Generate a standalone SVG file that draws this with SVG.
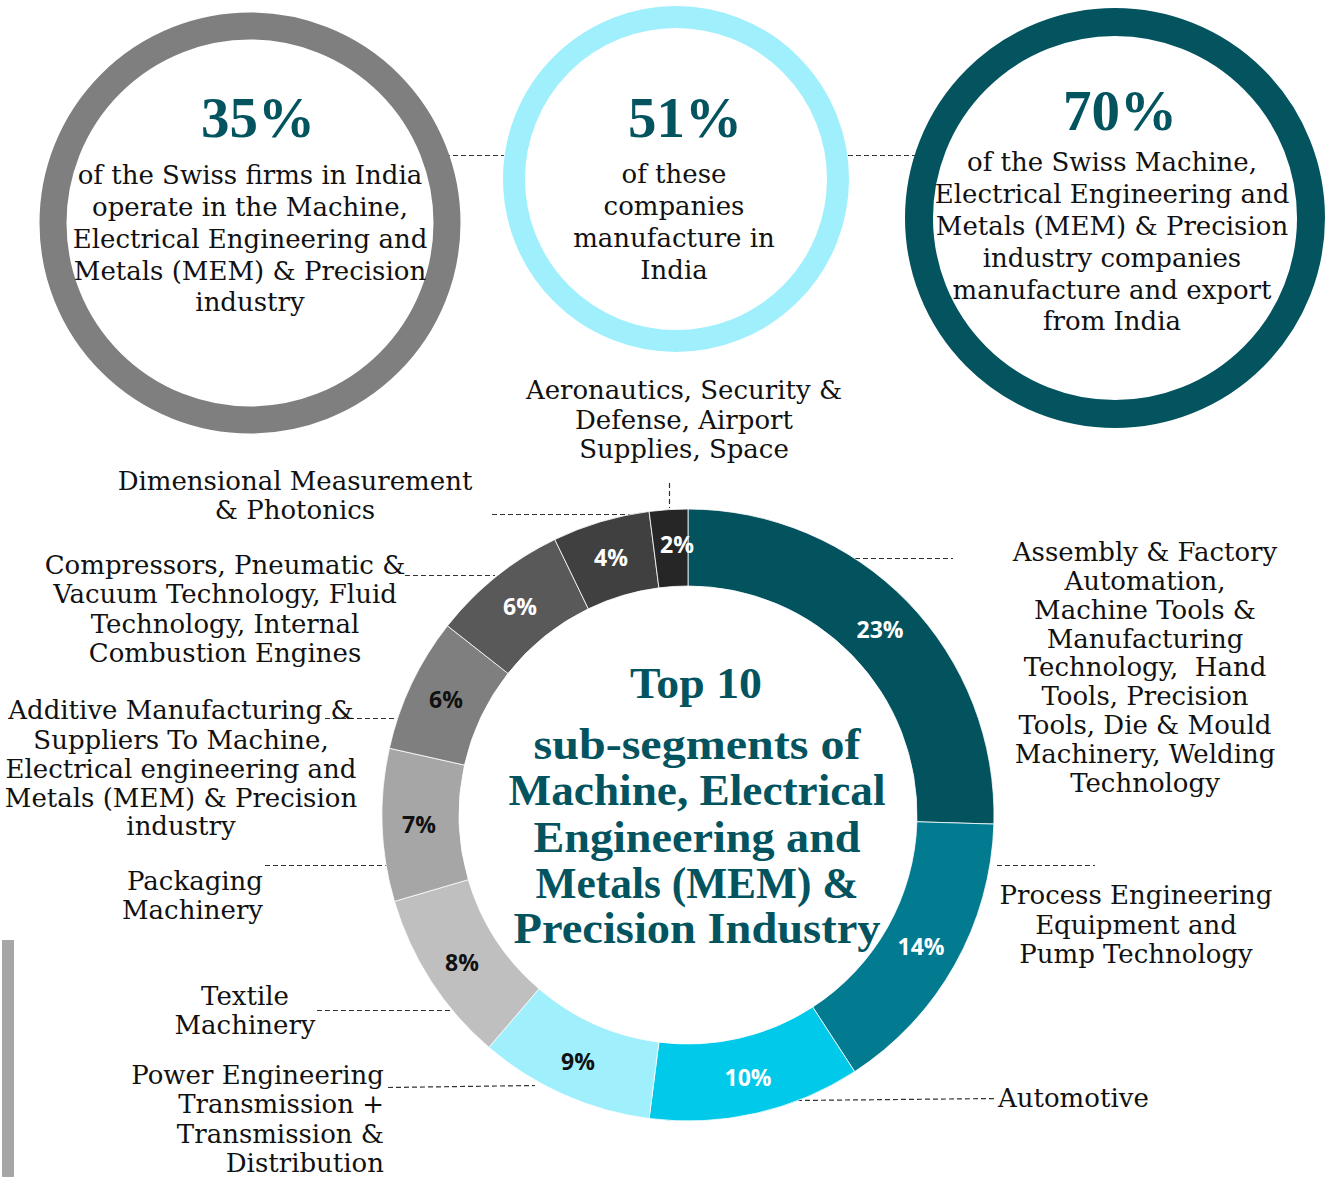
<svg xmlns="http://www.w3.org/2000/svg" width="1334" height="1177" viewBox="0 0 1334 1177">
<style>
.body{font-family:"DejaVu Serif","Liberation Serif",serif;font-size:26px;fill:#111;text-anchor:middle}
.lbl{font-family:"DejaVu Serif","Liberation Serif",serif;font-size:26px;fill:#111;text-anchor:middle}
.big{font-family:"Liberation Serif",serif;font-weight:700;font-size:57px;fill:#03545F;text-anchor:middle}
.title{font-family:"Liberation Serif",serif;font-weight:700;font-size:45px;fill:#03545F;text-anchor:middle}
.pct{font-family:"Open Sans","Liberation Sans",sans-serif;font-weight:700;font-size:23px;text-anchor:middle}
.w{fill:#fff}.k{fill:#111}
.seg{stroke:#fff;stroke-width:0.8}
.lead{stroke:#333;stroke-width:1.2;stroke-dasharray:5 3;fill:none}
</style>
<rect width="1334" height="1177" fill="#fff"/>
<rect x="2" y="940" width="12" height="237" fill="#A6A6A6"/>

<g id="connectors">
<line class="lead" x1="445" y1="155.5" x2="504" y2="155.5"/>
<line class="lead" x1="848" y1="155.5" x2="915" y2="155.5"/>
<line class="lead" x1="669.5" y1="483" x2="669.5" y2="508"/>
<line class="lead" x1="492" y1="514.5" x2="648" y2="514.5"/>
<line class="lead" x1="405" y1="575.5" x2="495" y2="575.5"/>
<line class="lead" x1="325" y1="718.5" x2="403" y2="718.5"/>
<line class="lead" x1="265" y1="865.5" x2="388" y2="865.5"/>
<line class="lead" x1="317" y1="1010.5" x2="452" y2="1010.5"/>
<line class="lead" x1="388" y1="1087.5" x2="535" y2="1085.5"/>
<line class="lead" x1="797" y1="1100.5" x2="997" y2="1098.5"/>
<line class="lead" x1="997" y1="865.5" x2="1095" y2="865.5"/>
<line class="lead" x1="855" y1="558.5" x2="953" y2="558.5"/>
</g>

<g id="node-35">
<circle cx="250" cy="223" r="197" fill="none" stroke="#7F7F7F" stroke-width="27"/>
<text class="big" x="258" y="137">35%</text>
<text class="body"><tspan x="250" y="184">of the Swiss firms in India</tspan><tspan x="250" y="216">operate in the Machine,</tspan><tspan x="250" y="248">Electrical Engineering and</tspan><tspan x="250" y="280">Metals (MEM) &amp; Precision</tspan><tspan x="250" y="311">industry</tspan></text>
</g>

<g id="node-51">
<circle cx="676" cy="179" r="162" fill="none" stroke="#A0EFFC" stroke-width="22"/>
<text class="big" x="685" y="137">51%</text>
<text class="body"><tspan x="674" y="183">of these</tspan><tspan x="674" y="215">companies</tspan><tspan x="674" y="247">manufacture in</tspan><tspan x="674" y="279">India</tspan></text>
</g>

<g id="node-70">
<circle cx="1115" cy="218" r="196" fill="none" stroke="#03545F" stroke-width="28"/>
<text class="big" x="1120" y="130">70%</text>
<text class="body"><tspan x="1112" y="171">of the Swiss Machine,</tspan><tspan x="1112" y="203">Electrical Engineering and</tspan><tspan x="1112" y="235">Metals (MEM) &amp; Precision</tspan><tspan x="1112" y="267">industry companies</tspan><tspan x="1112" y="299">manufacture and export</tspan><tspan x="1112" y="330">from India</tspan></text>
</g>

<g id="donut">
<g id="seg-23"><path class="seg" fill="#03535F" d="M688,509 A306,306 0 0 1 993.87,824.08 L916.90,821.79 A229,229 0 0 0 688,586 Z"/><text class="pct w" x="880" y="638">23%</text></g>
<g id="seg-14"><path class="seg" fill="#027A8F" d="M993.87,824.08 A306,306 0 0 1 854.66,1071.63 L812.72,1007.06 A229,229 0 0 0 916.90,821.79 Z"/><text class="pct w" x="921" y="955">14%</text></g>
<g id="seg-10"><path class="seg" fill="#00C9E9" d="M854.66,1071.63 A306,306 0 0 1 649.12,1118.52 L658.90,1042.14 A229,229 0 0 0 812.72,1007.06 Z"/><text class="pct w" x="748" y="1086">10%</text></g>
<g id="seg-9"><path class="seg" fill="#A0EFFC" d="M649.12,1118.52 A306,306 0 0 1 488.87,1047.34 L538.98,988.87 A229,229 0 0 0 658.90,1042.14 Z"/><text class="pct k" x="578" y="1070">9%</text></g>
<g id="seg-8"><path class="seg" fill="#BFBFBF" d="M488.87,1047.34 A306,306 0 0 1 394.45,901.40 L468.32,879.66 A229,229 0 0 0 538.98,988.87 Z"/><text class="pct k" x="462" y="971">8%</text></g>
<g id="seg-7"><path class="seg" fill="#A6A6A6" d="M394.45,901.40 A306,306 0 0 1 389.37,748.25 L464.51,765.05 A229,229 0 0 0 468.32,879.66 Z"/><text class="pct k" x="419" y="833">7%</text></g>
<g id="seg-6a"><path class="seg" fill="#7F7F7F" d="M389.37,748.25 A306,306 0 0 1 447.47,625.84 L508.00,673.44 A229,229 0 0 0 464.51,765.05 Z"/><text class="pct k" x="446" y="708">6%</text></g>
<g id="seg-6b"><path class="seg" fill="#595959" d="M447.47,625.84 A306,306 0 0 1 554.82,539.50 L588.33,608.83 A229,229 0 0 0 508.00,673.44 Z"/><text class="pct w" x="520" y="615">6%</text></g>
<g id="seg-4"><path class="seg" fill="#404040" d="M554.82,539.50 A306,306 0 0 1 649.12,511.48 L658.90,587.86 A229,229 0 0 0 588.33,608.83 Z"/><text class="pct w" x="611" y="566">4%</text></g>
<g id="seg-2"><path class="seg" fill="#262626" d="M649.12,511.48 A306,306 0 0 1 688,509 L688,586 A229,229 0 0 0 658.90,587.86 Z"/><text class="pct w" x="677" y="553">2%</text></g>
</g>

<g id="center-title">
<text class="title" x="696" y="698" textLength="132" lengthAdjust="spacingAndGlyphs">Top 10</text>
<text class="title" x="697" y="759" textLength="327" lengthAdjust="spacingAndGlyphs">sub-segments of</text>
<text class="title" x="697" y="805" textLength="377" lengthAdjust="spacingAndGlyphs">Machine, Electrical</text>
<text class="title" x="697" y="852" textLength="327" lengthAdjust="spacingAndGlyphs">Engineering and</text>
<text class="title" x="697" y="898" textLength="323" lengthAdjust="spacingAndGlyphs">Metals (MEM) &amp;</text>
<text class="title" x="697" y="943" textLength="367" lengthAdjust="spacingAndGlyphs">Precision Industry</text>
</g>

<g id="label-aero"><text class="lbl"><tspan x="684" y="399">Aeronautics, Security &amp;</tspan><tspan x="684" y="429">Defense, Airport</tspan><tspan x="684" y="458">Supplies, Space</tspan></text></g>
<g id="label-dim"><text class="lbl"><tspan x="295" y="490">Dimensional Measurement</tspan><tspan x="295" y="519">&amp; Photonics</tspan></text></g>
<g id="label-comp"><text class="lbl"><tspan x="225" y="574">Compressors, Pneumatic &amp;</tspan><tspan x="225" y="603">Vacuum Technology, Fluid</tspan><tspan x="225" y="633">Technology, Internal</tspan><tspan x="225" y="662">Combustion Engines</tspan></text></g>
<g id="label-add"><text class="lbl"><tspan x="181" y="719">Additive Manufacturing &amp;</tspan><tspan x="181" y="749">Suppliers To Machine,</tspan><tspan x="181" y="778">Electrical engineering and</tspan><tspan x="181" y="807">Metals (MEM) &amp; Precision</tspan><tspan x="181" y="835">industry</tspan></text></g>
<g id="label-pack"><text class="lbl" style="text-anchor:end"><tspan x="263" y="890">Packaging</tspan><tspan x="263" y="919">Machinery</tspan></text></g>
<g id="label-text"><text class="lbl"><tspan x="245" y="1005">Textile</tspan><tspan x="245" y="1034">Machinery</tspan></text></g>
<g id="label-power"><text class="lbl" style="text-anchor:end"><tspan x="384" y="1084">Power Engineering</tspan><tspan x="384" y="1113">Transmission +</tspan><tspan x="384" y="1143">Transmission &amp;</tspan><tspan x="384" y="1172">Distribution</tspan></text></g>
<g id="label-assembly"><text class="lbl"><tspan x="1145" y="561">Assembly &amp; Factory</tspan><tspan x="1145" y="590">Automation,</tspan><tspan x="1145" y="619">Machine Tools &amp;</tspan><tspan x="1145" y="648">Manufacturing</tspan><tspan x="1145" y="676">Technology,&#160; Hand</tspan><tspan x="1145" y="705">Tools, Precision</tspan><tspan x="1145" y="734">Tools, Die &amp; Mould</tspan><tspan x="1145" y="763">Machinery, Welding</tspan><tspan x="1145" y="792">Technology</tspan></text></g>
<g id="label-process"><text class="lbl"><tspan x="1136" y="904">Process Engineering</tspan><tspan x="1136" y="934">Equipment and</tspan><tspan x="1136" y="963">Pump Technology</tspan></text></g>
<g id="label-auto"><text class="lbl" style="text-anchor:start" x="998" y="1107">Automotive</text></g>
</svg>
